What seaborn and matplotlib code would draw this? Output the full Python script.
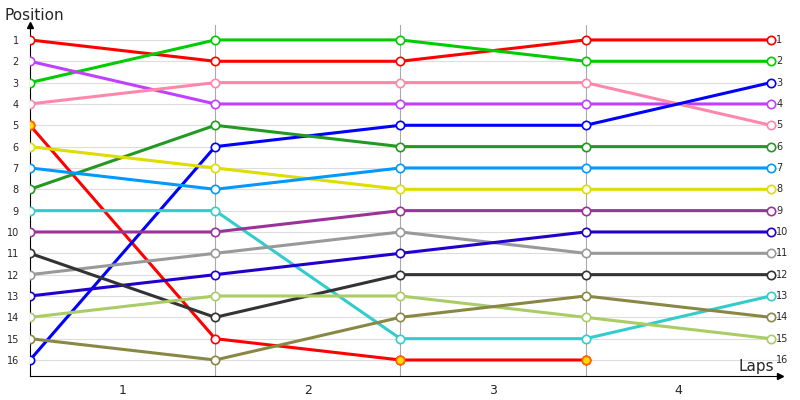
import matplotlib
matplotlib.use("Agg")
import matplotlib.pyplot as plt
import seaborn as sns
import pandas as pd

# lap points 0..4, position per point
laps = [0, 1, 2, 3, 4]
series = {
    "red1": [1, 2, 2, 1, 1],
    "green": [3, 1, 1, 2, 2],
    "violet": [2, 4, 4, 4, 4],
    "pink": [4, 3, 3, 3, 5],
    "red2": [5, 15, 16, 16],
    "blue": [16, 6, 5, 5, 3],
    "darkgreen": [8, 5, 6, 6, 6],
    "yellow": [6, 7, 8, 8, 8],
    "skyblue": [7, 8, 7, 7, 7],
    "cyan": [9, 9, 15, 15, 13],
    "purple": [10, 10, 9, 9, 9],
    "gray": [12, 11, 10, 11, 11],
    "navy": [13, 12, 11, 10, 10],
    "black": [11, 14, 12, 12, 12],
    "lightgreen": [14, 13, 13, 14, 15],
    "olive": [15, 16, 14, 13, 14],
}
colors = {
    "red1": "#ff0000", "green": "#00cc00", "violet": "#c040ff", "pink": "#ff88aa",
    "red2": "#ff0000", "blue": "#0000ff", "darkgreen": "#229922", "yellow": "#dddd00",
    "skyblue": "#0099ff", "cyan": "#33cccc", "purple": "#993399", "gray": "#999999",
    "navy": "#2200cc", "black": "#333333", "lightgreen": "#aacc66", "olive": "#888844",
}
highlight = {"red2": [0, 2, 3]}  # yellow-filled markers
lap_labels = ["1", "2", "3", "4"]
positions = list(range(1, 17))

sns.set_style("white")
fig = plt.figure(figsize=(8, 4), dpi=100)
ax = fig.add_axes([0.0375, 0.06, 0.9375, 0.8775])

for y in positions:
    ax.axhline(y, color="#dddddd", lw=0.8, zorder=0)
for x in laps[1:-1]:
    ax.axvline(x, color="#aaaaaa", lw=0.8, zorder=0)

for name, vals in series.items():
    df = pd.DataFrame({"lap": laps[:len(vals)], "pos": vals})
    sns.lineplot(data=df, x="lap", y="pos", color=colors[name], lw=2.2, ax=ax,
                 marker="o", markersize=6, markerfacecolor="white",
                 markeredgecolor=colors[name], markeredgewidth=1.2, zorder=3)
    for i in highlight.get(name, []):
        ax.plot(laps[i], vals[i], "o", ms=6, mfc="#ffdd00", mec="#ff6600", mew=1.2, zorder=4)

ax.set_xlim(0, 4.05)
ax.set_ylim(16.75, 0.3)
ax.set_yticks(positions)
ax.set_yticklabels([str(p) for p in positions], fontsize=7)
ax.tick_params(axis="y", length=0, pad=8)
ax.set_xticks([0.5, 1.5, 2.5, 3.5])
ax.set_xticklabels(lap_labels, fontsize=9)
ax.tick_params(axis="x", length=0, pad=6)
ax.set_xlabel("")
ax.set_ylabel("")
for p in positions:
    ax.text(4.0 + 0.03, p, str(p), fontsize=7, va="center", ha="left")

for s in ["top", "right"]:
    ax.spines[s].set_visible(False)
ax.spines["left"].set_color("black")
ax.spines["bottom"].set_color("black")
ax.plot(0, 0.3, "^k", ms=4, clip_on=False)
ax.plot(4.05, 16.75, ">k", ms=4, clip_on=False)

fig.text(0.005, 0.96, "Position", fontsize=11, ha="left", va="center")
fig.text(0.968, 0.085, "Laps", fontsize=11, ha="right", va="center")

fig.savefig("out.png", dpi=100)
